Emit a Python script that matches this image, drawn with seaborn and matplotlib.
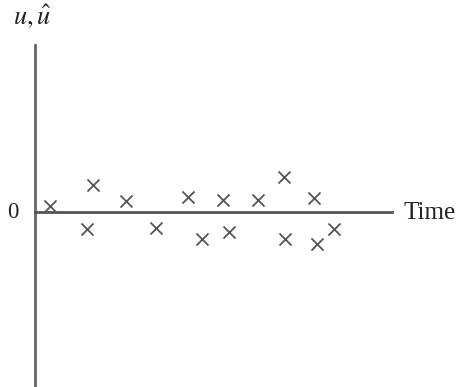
import matplotlib
matplotlib.use('Agg')
import matplotlib.pyplot as plt
import seaborn as sns
import pandas as pd

# residuals over time
time = [0.6, 2.09, 2.33, 3.63, 4.84, 6.12, 6.68, 7.51, 7.77, 8.91, 9.96, 10.0, 11.17, 11.27, 11.97]
resid = [0.145, -0.44, 0.66, 0.26, -0.40, 0.37, -0.69, 0.29, -0.52, 0.30, 0.86, -0.69, 0.33, -0.80, -0.44]

df = pd.DataFrame({'time': time, 'resid': resid})

sns.set_style('white')
plt.rcParams['font.family'] = ['Liberation Serif', 'DejaVu Serif']
plt.rcParams['mathtext.fontset'] = 'stix'

fig = plt.figure(figsize=(4.62, 3.87), dpi=100)
ax = fig.add_axes([35/462, 0, (392-35)/462, (387-45)/387])

sns.scatterplot(data=df, x='time', y='resid', marker='x', s=75, color='#555555',
                linewidth=1.3, ax=ax, legend=False)

ax.set_xlim(0, (392-35)/25)
ax.set_ylim(-(387-211.5)/40, (211.5-45)/40)

for s in ['top', 'right']:
    ax.spines[s].set_visible(False)
ax.spines['left'].set_position(('data', 0))
ax.spines['bottom'].set_position(('data', 0))
ax.spines['left'].set_color('#666666')
ax.spines['bottom'].set_color('#555555')
for s in ['left', 'bottom']:
    ax.spines[s].set_linewidth(2)
ax.set_xticks([])
ax.set_yticks([])
ax.set_xlabel('')
ax.set_ylabel('')

fig.text(12.5/462, 1 - 213/387, '0', fontsize=16.5, ha='center', va='center', color='#222222')
fig.text(403/462, 1 - 213/387, 'Time', fontsize=18, ha='left', va='center', color='#222222')
fig.text(32/462, 1 - 17/387, r'$u,\hat{u}$', fontsize=19, ha='center', va='center', color='#222222')

plt.savefig('out.png', dpi=100)
